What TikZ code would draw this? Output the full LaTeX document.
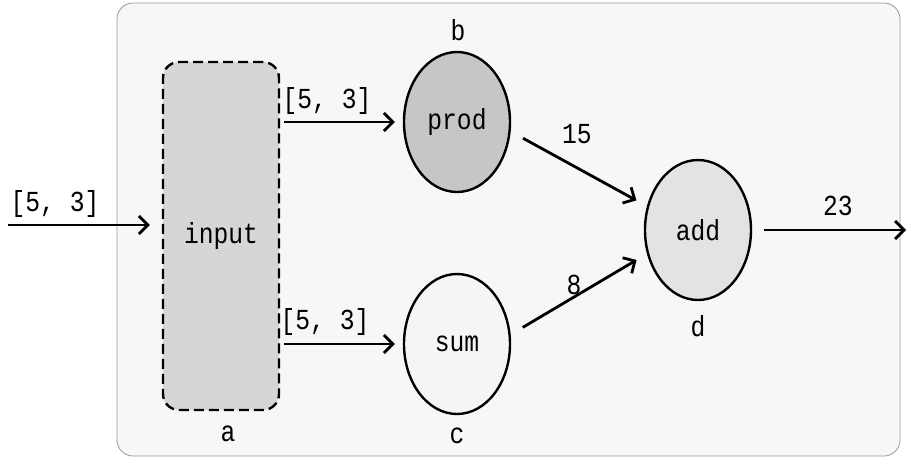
\documentclass[tikz,border=0pt]{standalone}
\usepackage{fontspec}
\setmainfont{Liberation Mono}[FakeStretch=0.85]
\usetikzlibrary{shapes.geometric,arrows.meta}

\begin{document}
\begin{tikzpicture}[
  x=0.5pt, y=-0.5pt,
  op/.style={draw, line width=1.2pt, ellipse, minimum width=53pt, minimum height=70pt, inner sep=0pt},
  arr/.style={line width=1.4pt, -{Straight Barb[length=4.5pt,width=9pt,line width=1.4pt]}},
  lbl/.style={font=\fontsize{14.5}{16}\selectfont, inner sep=1pt}
]
  \useasboundingbox (0,0) rectangle (907,461);

  % Outer frame
  \draw[gray!80, fill=gray!6, rounded corners=8pt] (117,3) rectangle (900,456);

  % Input block
  \node[draw, line width=1.2pt, dashed, dash pattern=on 5pt off 2.5pt, rounded corners=8pt,
        fill=gray!32, minimum width=58pt, minimum height=174pt, lbl] (inp) at (221,236) {input};
  \node[lbl] (la) at (228,434) {a};

  % Operations
  \node[op, fill=gray!45, lbl] (prod) at (457,122) {prod};
  \node[lbl] (lb) at (458,30) {b};
  \node[op, fill=gray!8, lbl] (sum) at (457,344) {sum};
  \node[lbl] (lc) at (457,436) {c};
  \node[op, fill=gray!22, lbl] (add) at (698,230) {add};
  \node[lbl] (ld) at (698,326) {d};

  % Free ends
  \coordinate (start) at (8,225);
  \coordinate (stop) at (906,230);

  % Connectors
  \draw[arr, shorten >=6pt] (start) -- (start -| inp.west);
  \node[lbl] at (55,204) {[5, 3]};
  \draw[arr, shorten <=2pt, shorten >=4pt] (inp.east |- prod) -- (prod.west);
  \node[lbl] at (327,101) {[5, 3]};
  \draw[arr, shorten <=2pt, shorten >=4pt] (inp.east |- sum) -- (sum.west);
  \node[lbl] at (325,322) {[5, 3]};
  \draw[arr, shorten <=7pt, shorten >=6pt] (prod.-10) -- (add.155);
  \node[lbl] at (577,134) {15};
  \draw[arr, shorten <=7pt, shorten >=6pt] (sum.10) -- (add.205);
  \node[lbl] at (574,285) {8};
  \draw[arr, shorten <=6pt] (add.east) -- (stop);
  \node[lbl] at (838,206) {23};
\end{tikzpicture}
\end{document}
